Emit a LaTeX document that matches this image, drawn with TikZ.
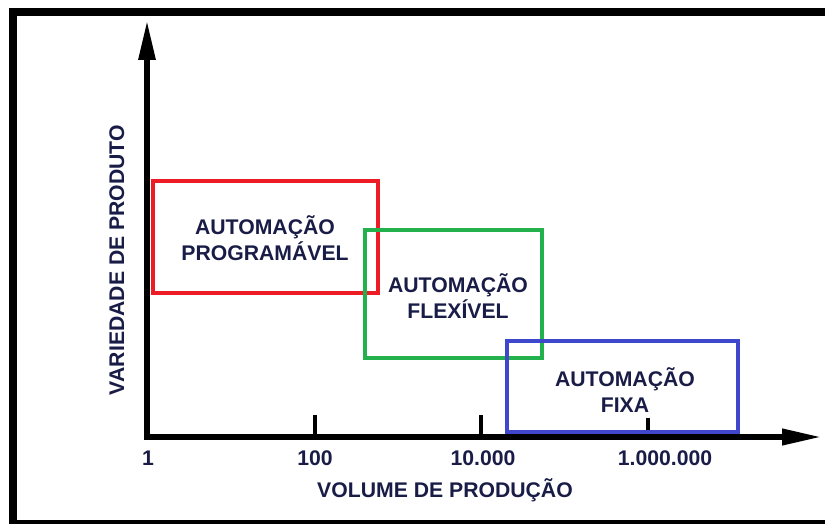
\documentclass[tikz,border=0pt]{standalone}
\usepackage{fontspec}
\setmainfont{Liberation Sans}
\usetikzlibrary{arrows.meta}

\definecolor{progred}{RGB}{237,28,36}
\definecolor{flexgreen}{RGB}{34,177,76}
\definecolor{fixblue}{RGB}{63,72,204}
\definecolor{labelink}{RGB}{25,28,70}

\begin{document}
\begin{tikzpicture}[x=0.75pt,y=0.75pt,yscale=-1,xscale=1,
  lbl/.style={text=labelink,font=\fontsize{15.9}{19.5}\selectfont\bfseries,inner sep=0pt,align=center},
  axis/.style={line width=4.5pt},
  tick/.style={line width=3pt}]
\useasboundingbox (0,0) rectangle (825,524);
\clip (0,0) rectangle (825,524);

%Shape: Frame
\draw [line width=6pt] (12.5,12) rectangle (845,524) ;

%Shape: Axis 2D
\draw [axis,-{Triangle[length=30pt,width=12pt]}] (147,440) -- (147,20) ;
\draw [axis,-{Triangle[length=30pt,width=11.5pt]}] (144,437) -- (822,437) ;
%Straight Lines
\draw [tick] (315,437) -- (315,415) ;
\draw [tick] (481,437) -- (481,415) ;
\draw [tick] (648,437) -- (648,418) ;

%Shape: Rectangle
\draw [progred,line width=3.4pt] (153,181) rectangle (378,293) ;
%Shape: Rectangle
\draw [flexgreen,line width=3.4pt] (365,230) rectangle (542,358) ;
%Shape: Rectangle
\draw [fixblue,line width=3.4pt] (507,341) rectangle (738,432) ;

% Text Node
\node [lbl] (prog) at (265,238) {AUTOMAÇÃO\\PROGRAMÁVEL};
% Text Node
\node [lbl] (flex) at (458,296) {AUTOMAÇÃO\\FLEXÍVEL};
% Text Node
\node [lbl] (fixa) at (625,390) {AUTOMAÇÃO\\FIXA};

% Text Node
\node [lbl,anchor=base] (v1) at (148,465) {1};
% Text Node
\node [lbl,anchor=base] (v100) at (315,465) {100};
% Text Node
\node [lbl,anchor=base] (v10k) at (483,465) {10.000};
% Text Node
\node [lbl,anchor=base] (v1m) at (665,465) {1.000.000};
% Text Node
\node [lbl,anchor=base] (xlabel) at (445,497) {VOLUME DE PRODUÇÃO};
% Text Node
\node [lbl,anchor=base,rotate=90] (ylabel) at (124,260) {VARIEDADE DE PRODUTO};

\end{tikzpicture}
\end{document}
